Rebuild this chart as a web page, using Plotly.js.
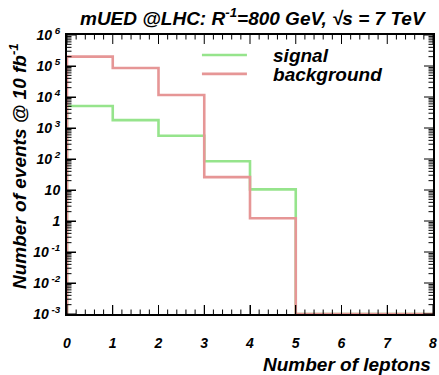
<!DOCTYPE html>
<html>
<head>
<meta charset="utf-8">
<script src="https://cdn.plot.ly/plotly-3.0.1.min.js"></script>
<style>html,body{margin:0;padding:0;background:#fff;}#chart{width:439px;height:375px;}</style>
</head>
<body>
<div id="chart"></div>
<script>
// Bin edges (number of leptons) and contents per bin
const binEdges = [0, 1, 2, 3, 4, 5, 6, 7, 8];
const signal = [5100, 1800, 560, 85, 10.5, 0, 0, 0];
const background = [200000, 86000, 11600, 26, 1.22, 0, 0, 0];
const seriesNames = ['signal', 'background'];
const yTickVals = [1e-3, 1e-2, 1e-1, 1, 10, 1e2, 1e3, 1e4, 1e5, 1e6];
const yTickText = ['10<sup> -3</sup>', '10<sup> -2</sup>', '10<sup> -1</sup>', '1', '10',
  '10<sup> 2</sup>', '10<sup> 3</sup>', '10<sup> 4</sup>', '10<sup> 5</sup>', '10<sup> 6</sup>'];
const xTickVals = [0, 1, 2, 3, 4, 5, 6, 7, 8];
const yMin = 1e-3, yMax = 1e6;
const xRange = [0, 8], yRange = [Math.log10(yMin), Math.log10(yMax)];

const W = 439, H = 375, M = {l: 67, r: 6, t: 35, b: 61};
const plotW = W - M.l - M.r, plotH = H - M.t - M.b;

function histPath(vals) {
  const floorV = v => (v > 0 ? v : yMin);
  const xs = [binEdges[0]].concat(binEdges);
  const ys = [yMin].concat(vals.map(floorV), [floorV(vals[vals.length - 1])]);
  return {x: xs, y: ys};
}

// ROOT-style frame ticks (major + minor) on all four sides, drawn as frame shapes
function frameTicks() {
  const shapes = [];
  const line = {color: '#000', width: 1};
  const xFrac = v => (v - xRange[0]) / (xRange[1] - xRange[0]);
  const yFrac = v => (Math.log10(v) - yRange[0]) / (yRange[1] - yRange[0]);
  const xMinor = [];
  for (let i = 1; i < 40; i++) if (i % 5) xMinor.push(i * 0.2);
  const yMinor = [];
  for (let d = yRange[0]; d < yRange[1]; d++) for (let k = 2; k <= 9; k++) yMinor.push(k * Math.pow(10, d));
  const addX = (v, len) => {
    const f = xFrac(v), h = len / plotH;
    shapes.push({type: 'line', xref: 'paper', yref: 'paper', x0: f, x1: f, y0: 0, y1: h, line, layer: 'above'});
    shapes.push({type: 'line', xref: 'paper', yref: 'paper', x0: f, x1: f, y0: 1, y1: 1 - h, line, layer: 'above'});
  };
  const addY = (v, len) => {
    const f = yFrac(v), w = len / plotW;
    shapes.push({type: 'line', xref: 'paper', yref: 'paper', x0: 0, x1: w, y0: f, y1: f, line, layer: 'above'});
    shapes.push({type: 'line', xref: 'paper', yref: 'paper', x0: 1, x1: 1 - w, y0: f, y1: f, line, layer: 'above'});
  };
  xTickVals.forEach(v => addX(v, 9));
  xMinor.forEach(v => addX(v, 4.5));
  yTickVals.forEach(v => addY(v, 9));
  yMinor.forEach(v => addY(v, 4.5));
  return shapes;
}

const font = 'Liberation Sans, Arial, sans-serif';
const bi = {family: font, weight: 'bold', style: 'italic', color: '#000'};
const pad = '\u00A0\u00A0\u00A0\u00A0';
const sig = histPath(signal), bkg = histPath(background);
const traces = [
  {x: sig.x, y: sig.y, type: 'scatter', mode: 'lines', line: {shape: 'hv', color: 'rgb(150,228,140)', width: 2.6}, name: pad + seriesNames[0], legend: 'legend'},
  {x: bkg.x, y: bkg.y, type: 'scatter', mode: 'lines', line: {shape: 'hv', color: 'rgb(230,150,150)', width: 2.6}, name: pad + seriesNames[1], legend: 'legend2'}
];

const legBase = {xanchor: 'left', yanchor: 'middle', bgcolor: 'rgba(0,0,0,0)', borderwidth: 0,
  itemwidth: 45, font: Object.assign({}, bi, {size: 19})};

const layout = {
  width: W, height: H,
  margin: M,
  paper_bgcolor: '#fff', plot_bgcolor: '#fff',
  font: {family: font, size: 13, color: '#000'},
  showlegend: true,
  legend: Object.assign({}, legBase, {x: 0.355, y: 0.928}),
  legend2: Object.assign({}, legBase, {x: 0.355, y: 0.86}),
  xaxis: {
    range: xRange, tickvals: xTickVals, ticktext: xTickVals.map(String),
    ticks: 'inside', ticklen: 9, tickwidth: 1, tickcolor: '#000',
    showline: true, linecolor: '#000', linewidth: 2, mirror: true,
    showgrid: false, zeroline: false, ticklabelstandoff: 15,
    tickfont: Object.assign({}, bi, {size: 14})
  },
  yaxis: {
    type: 'log', range: yRange, tickvals: yTickVals, ticktext: yTickText,
    ticks: 'inside', ticklen: 9, tickwidth: 1, tickcolor: '#000',
    showline: true, linecolor: '#000', linewidth: 2, mirror: true,
    showgrid: false, zeroline: false, ticklabelstandoff: 2,
    tickfont: Object.assign({}, bi, {size: 14})
  },
  shapes: frameTicks(),
  annotations: [
    {text: 'mUED @LHC: R<sup>-1</sup>=800 GeV, √s = 7 TeV', xref: 'paper', yref: 'paper',
     x: 0.508, y: 1, xanchor: 'center', yanchor: 'bottom', yshift: 4, showarrow: false, font: Object.assign({}, bi, {size: 19})},
    {text: 'Number of leptons', xref: 'paper', yref: 'paper', x: 1, y: 0, xanchor: 'right', yanchor: 'top',
     yshift: -38, showarrow: false, font: Object.assign({}, bi, {size: 19})},
    {text: 'Number of events @ 10 fb<sup>-1</sup>', xref: 'paper', yref: 'paper', x: 0, y: 1.0,
     xanchor: 'center', yanchor: 'top', xshift: -49, yshift: -6, textangle: -90, showarrow: false, font: Object.assign({}, bi, {size: 19})}
  ]
};

Plotly.newPlot('chart', traces, layout, {displayModeBar: false, staticPlot: true});
</script>
</body>
</html>
